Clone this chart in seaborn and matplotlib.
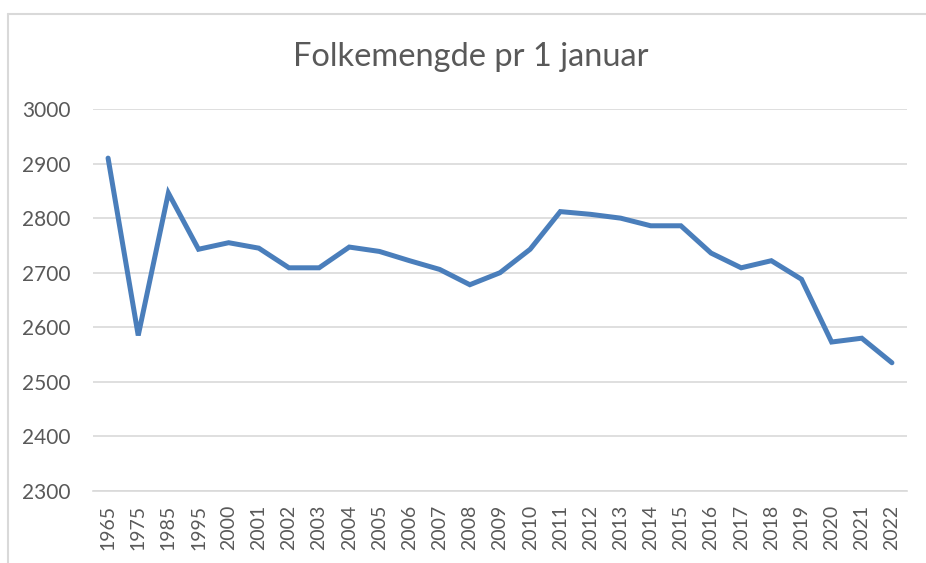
import matplotlib
matplotlib.use("Agg")
import matplotlib.pyplot as plt
import seaborn as sns
import pandas as pd
from matplotlib.lines import Line2D

years = ["1965", "1975", "1985", "1995", "2000", "2001", "2002", "2003", "2004",
         "2005", "2006", "2007", "2008", "2009", "2010", "2011", "2012", "2013",
         "2014", "2015", "2016", "2017", "2018", "2019", "2020", "2021", "2022"]
population = [2910, 2585, 2846, 2743, 2755, 2745, 2709, 2709, 2747,
              2739, 2722, 2706, 2678, 2700, 2743, 2812, 2807, 2800,
              2786, 2786, 2736, 2709, 2722, 2688, 2573, 2580, 2535]
y_ticks = [2300, 2400, 2500, 2600, 2700, 2800, 2900, 3000]
title = "Folkemengde pr 1 januar"

df = pd.DataFrame({"year": years, "value": population})

sns.set_theme(style="white")
plt.rcParams["font.family"] = ["Lato", "DejaVu Sans"]

fig = plt.figure(figsize=(9.26, 5.63), dpi=100)
ax = fig.add_axes([93 / 926, 1 - 491 / 563, (907 - 93) / 926, (491 - 109) / 563])

sns.lineplot(data=df, x="year", y="value", ax=ax, sort=False,
             color="#4A7EBB", linewidth=3.6, solid_joinstyle="miter")

ax.set_ylim(2300, 3000)
ax.set_yticks(y_ticks)
ax.set_xlim(-0.5, len(years) - 0.5)
ax.yaxis.grid(True, color="#D9D9D9", linewidth=1.2)
ax.set_axisbelow(True)
for s in ["top", "right", "left"]:
    ax.spines[s].set_visible(False)
ax.spines["bottom"].set_color("#D9D9D9")
ax.spines["bottom"].set_linewidth(1.2)
ax.set_xlabel("")
ax.set_ylabel("")
ax.tick_params(axis="y", length=0, pad=16, labelsize=15, labelcolor="#595959")
ax.tick_params(axis="x", length=0, pad=10, labelsize=14, labelcolor="#595959",
               labelrotation=90)

fig.text(471 / 926, 1 - 57 / 563, title, ha="center", va="center",
         fontsize=23.5, color="#595959")

# chart-area border (left and top edges visible)
fig.add_artist(Line2D([8 / 926, 8 / 926], [0, 1 - 14 / 563],
                      transform=fig.transFigure, color="#D9D9D9", linewidth=1.5))
fig.add_artist(Line2D([8 / 926, 1], [1 - 14 / 563, 1 - 14 / 563],
                      transform=fig.transFigure, color="#D9D9D9", linewidth=1.5))

fig.savefig("out.png", dpi=100)
